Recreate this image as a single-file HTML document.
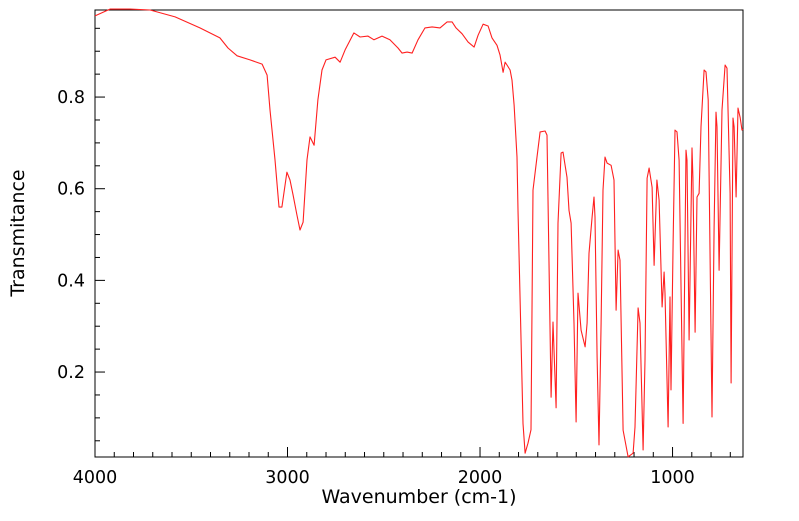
<!DOCTYPE html>
<html><head><meta charset="utf-8"><style>
body{margin:0;background:#fff;width:799px;height:516px;overflow:hidden}
text{font-family:"DejaVu Sans","Liberation Sans",sans-serif;fill:#000}
</style></head><body>
<svg id="chart" width="799" height="516">
<rect x="95" y="10" width="648" height="447" fill="#fff" stroke="#000" stroke-width="1"/>
<g id="axes"></g>
<polyline id="spectrum" fill="none" stroke="#ff2020" stroke-width="1.1" stroke-linejoin="round"/>
<text x="419" y="503" font-size="19" text-anchor="middle">Wavenumber (cm-1)</text>
<text x="0" y="0" font-size="19" text-anchor="middle" transform="translate(24,233) rotate(-90)">Transmitance</text>
</svg>
<script>
const wavenumbers=[4000,3922,3818,3714,3584,3455,3351,3309,3262,3195,3132,3106,3091,3065,3044,3029,3003,2987,2971,2951,2935,2919,2899,2883,2862,2842,2821,2800,2753,2727,2701,2655,2623,2582,2551,2509,2468,2426,2405,2379,2353,2322,2286,2249,2208,2171,2145,2125,2093,2062,2031,2010,1984,1958,1938,1912,1896,1880,1870,1860,1844,1834,1823,1808,1803,1777,1766,1751,1735,1725,1704,1688,1662,1652,1631,1621,1605,1595,1579,1569,1548,1538,1527,1512,1501,1491,1475,1454,1444,1434,1418,1408,1403,1392,1382,1371,1361,1351,1340,1319,1304,1293,1283,1273,1257,1231,1205,1195,1179,1169,1153,1143,1132,1122,1106,1096,1081,1070,1054,1044,1039,1023,1013,1008,997,987,977,966,945,930,925,914,899,894,883,873,862,852,836,826,815,795,784,774,769,758,743,727,717,701,696,686,680,670,660,649,639,634];
const transmittance=[0.977,0.992,0.992,0.990,0.975,0.951,0.929,0.907,0.890,0.881,0.872,0.848,0.772,0.663,0.560,0.560,0.636,0.619,0.586,0.543,0.510,0.527,0.663,0.713,0.695,0.794,0.859,0.881,0.887,0.876,0.903,0.940,0.931,0.933,0.925,0.933,0.925,0.907,0.896,0.898,0.896,0.925,0.951,0.953,0.951,0.964,0.964,0.951,0.938,0.920,0.909,0.935,0.959,0.955,0.929,0.913,0.892,0.854,0.876,0.870,0.859,0.837,0.783,0.669,0.553,0.088,0.023,0.045,0.074,0.597,0.669,0.724,0.726,0.717,0.145,0.309,0.122,0.525,0.678,0.680,0.625,0.553,0.525,0.307,0.091,0.372,0.291,0.255,0.307,0.459,0.538,0.582,0.538,0.232,0.041,0.307,0.597,0.669,0.656,0.651,0.619,0.335,0.466,0.444,0.073,0.015,0.023,0.080,0.340,0.307,0.030,0.226,0.623,0.645,0.603,0.433,0.619,0.575,0.342,0.418,0.372,0.080,0.364,0.161,0.481,0.728,0.724,0.662,0.088,0.684,0.662,0.270,0.689,0.625,0.287,0.582,0.590,0.735,0.859,0.855,0.794,0.102,0.516,0.767,0.735,0.422,0.772,0.870,0.863,0.590,0.176,0.754,0.735,0.582,0.776,0.756,0.728,0.73];
const xTickLabels=[4000,3000,2000,1000];
const yTickLabels=[0.2,0.4,0.6,0.8];
const X0=95,X1=743,WMAX=4000,WMIN=634;
function xs(w){return X0+(WMAX-w)*(X1-X0)/(WMAX-WMIN);}
function ys(t){return 463.7-t*458.3;}
const NS="http://www.w3.org/2000/svg";
const ax=document.getElementById('axes');
function ln(x1,y1,x2,y2,name){const l=document.createElementNS(NS,'line');l.setAttribute('x1',x1);l.setAttribute('y1',y1);l.setAttribute('x2',x2);l.setAttribute('y2',y2);l.setAttribute('stroke','#000');l.setAttribute('stroke-width','1');


ax.appendChild(l);}
function tx(x,y,s,anchor,name){const t=document.createElementNS(NS,'text');t.setAttribute('x',x);t.setAttribute('y',y);t.setAttribute('font-size','17.5');t.setAttribute('text-anchor',anchor);t.textContent=s;


ax.appendChild(t);}
for(let w=700;w<=4000;w+=100){const x=xs(w);const major=w%1000===0;ln(x,457,x,457-(major?10:5),major?'x-major-tick':'x-minor-tick');}
xTickLabels.forEach(w=>tx(xs(w),483,String(w),'middle','x-tick-label'));
for(let k=1;k<=19;k++){const t=k*0.05;const y=ys(t);if(y<10||y>457)continue;const major=k%4===0;ln(95,y,95+(major?10:5),y,major?'y-major-tick':'y-minor-tick');}
yTickLabels.forEach(t=>tx(85,ys(t)+6,t.toFixed(1),'end','y-tick-label'));
document.getElementById('spectrum').setAttribute('points',wavenumbers.map((w,i)=>xs(w).toFixed(1)+','+ys(transmittance[i]).toFixed(1)).join(' '));
</script>
</body></html>
